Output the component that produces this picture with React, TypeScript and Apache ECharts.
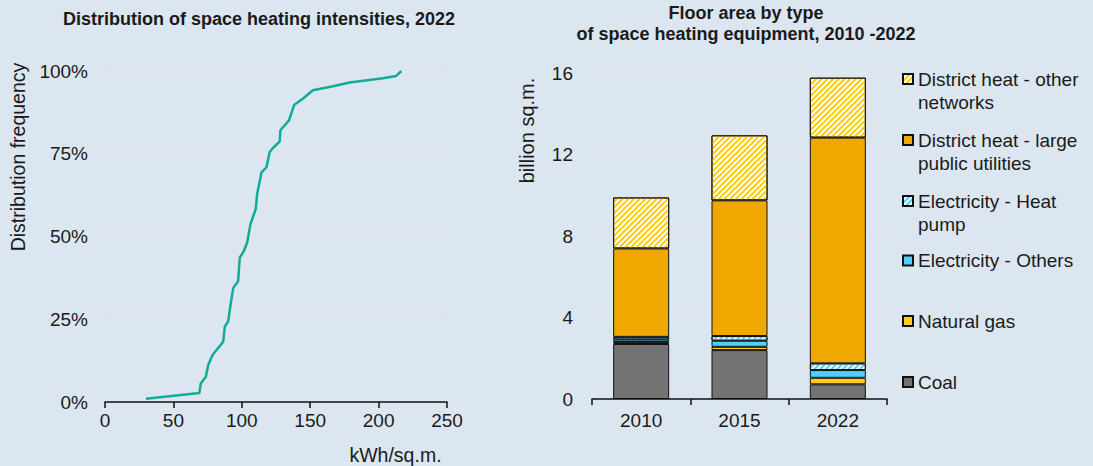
import React, { useEffect, useRef } from "react";
import * as echarts from "echarts";

const intensityX = [30, 69, 70, 73.7, 75.4, 78.6, 86.4, 87.6, 90, 92, 93.7, 97.3, 98.5, 101.5, 103.9, 106.3, 110.2, 111.2, 114.4, 118, 120.4, 122.9, 127.7, 128.2, 134.5, 138.2, 144.8, 152, 166.7, 178.8, 203.1, 212.9, 216.6];
const frequency = [1, 2.7, 5.6, 7.6, 11.1, 14.2, 18.2, 22.8, 24.3, 29.9, 34.4, 36.5, 43.6, 45.6, 48.1, 53.7, 58.3, 62.8, 69.4, 70.9, 75.5, 76.8, 78.7, 82.1, 85.1, 89.7, 91.7, 94.2, 95.4, 96.5, 97.8, 98.5, 100];

const years = ["2010", "2015", "2022"];
const coal = [2.7, 2.4, 0.72];
const naturalGas = [0.1, 0.16, 0.32];
const elecOthers = [0.12, 0.3, 0.38];
const elecHeatPump = [0.13, 0.23, 0.33];
const dhLarge = [4.34, 6.66, 11.08];
const dhOther = [2.5, 3.19, 2.94];

const xTicks = [0, 50, 100, 150, 200, 250];

const BG = "#dce6f1";
const FONT = "'Liberation Sans', Arial, sans-serif";
const INK = "#1a1a1a";

export default function App() {
  const ref = useRef<HTMLDivElement>(null);
  useEffect(() => {
    if (!ref.current) return;
    const chart = echarts.init(ref.current, null, { renderer: "svg" });
    const stripe = (color: string) => ({
      symbol: "rect",
      symbolSize: 1,
      color,
      dashArrayX: [1, 0],
      dashArrayY: [2, 2],
      rotation: -Math.PI / 4,
    });
    const barBase = {
      type: "bar",
      stack: "total",
      xAxisIndex: 1,
      yAxisIndex: 1,
      barWidth: 56,
    };
    const border = { borderColor: "#111", borderWidth: 1 };
    const seriesDefs = [
      { name: "Coal", data: coal, itemStyle: { color: "#737373", ...border } },
      { name: "Natural gas", data: naturalGas, itemStyle: { color: "#ffcc1a", ...border } },
      { name: "Electricity - Others", data: elecOthers, itemStyle: { color: "#4dd0fa", ...border } },
      { name: "Electricity - Heat pump", data: elecHeatPump, itemStyle: { color: "#ffffff", decal: stripe("#4dd0fa"), ...border } },
      { name: "District heat - large public utilities", data: dhLarge, itemStyle: { color: "#f0a800", ...border } },
      { name: "District heat - other networks", data: dhOther, itemStyle: { color: "#ffffff", decal: stripe("#ffcc00"), ...border } },
    ];
    const legendItems = [
      { name: "District heat - other networks", first: "District heat - other", second: "networks", cy: 79 },
      { name: "District heat - large public utilities", first: "District heat - large", second: "public utilities", cy: 140 },
      { name: "Electricity - Heat pump", first: "Electricity - Heat", second: "pump", cy: 201 },
      { name: "Electricity - Others", first: "Electricity - Others", second: "", cy: 260.5 },
      { name: "Natural gas", first: "Natural gas", second: "", cy: 321 },
      { name: "Coal", first: "Coal", second: "", cy: 382 },
    ];
    const FS = 19;
    const textStyle = { fontFamily: FONT, fontSize: FS, color: INK };
    const txt = (text: string, x: number, y: number, size: number, opts: any = {}) => ({
      type: "text",
      x,
      y,
      rotation: opts.rotation || 0,
      style: {
        text,
        font: `${opts.bold ? "bold " : ""}${size}px ${FONT}`,
        fill: INK,
        textAlign: opts.align || "center",
        textVerticalAlign: "middle",
      },
    });
    const option: any = {
      animation: false,
      backgroundColor: BG,
      textStyle: { fontFamily: FONT },
      legend: legendItems.map((it) => ({
        orient: "vertical",
        left: 902,
        top: it.cy - FS / 2,
        data: [it.name],
        icon: "rect",
        itemWidth: 10,
        itemHeight: 10,
        itemGap: 0,
        padding: 0,
        formatter: () => it.first,
        textStyle: { ...textStyle, lineHeight: FS, padding: [0, 0, 0, 0] },
        selectedMode: false,
      })),
      graphic: [
        txt("Distribution of space heating intensities, 2022", 259, 19, 18, { bold: true }),
        txt("Floor area by type", 746, 12.5, 18, { bold: true }),
        txt("of space heating equipment, 2010 -2022", 746, 33.5, 18, { bold: true }),
        ...legendItems
          .filter((it) => it.second)
          .map((it) => txt(it.second, 918, it.cy + 23, FS, { align: "left" })),
        txt("Distribution frequency", 18.3, 157, 19.5, { rotation: Math.PI / 2 }),
        txt("billion sq.m.", 527.3, 130.5, 20, { rotation: Math.PI / 2 }),
        txt("kWh/sq.m.", 395.5, 455, 19.5),
      ],
      grid: [
        { left: 105, right: 646, top: 71, bottom: 64 },
        { left: 592, right: 206, top: 73, bottom: 67 },
      ],
      xAxis: [
        {
          type: "value",
          gridIndex: 0,
          min: xTicks[0],
          max: xTicks[xTicks.length - 1],
          interval: 50,
          axisLine: { show: true, lineStyle: { color: "#111", width: 1.5 } },
          axisTick: { show: true, length: 6, lineStyle: { color: "#111", width: 1.5 } },
          splitLine: { show: false },
          axisLabel: { ...textStyle, margin: 9 },
        },
        {
          type: "category",
          gridIndex: 1,
          data: years,
          axisLine: { show: true, lineStyle: { color: "#111", width: 1.5 } },
          axisTick: { show: true, length: 6, lineStyle: { color: "#111", width: 1.5 } },
          axisLabel: { ...textStyle, margin: 12 },
        },
      ],
      yAxis: [
        {
          type: "value",
          gridIndex: 0,
          min: 0,
          max: 100,
          interval: 25,
          axisLine: { show: false },
          axisTick: { show: false },
          splitLine: { show: true, lineStyle: { color: "#e8e8e8", width: 1 } },
          axisLabel: { ...textStyle, margin: 17, formatter: "{value}%" },
        },
        {
          type: "value",
          gridIndex: 1,
          min: 0,
          max: 16,
          interval: 4,
          axisLine: { show: false },
          axisTick: { show: false },
          splitLine: { show: true, lineStyle: { color: "#e8e8e8", width: 1 } },
          axisLabel: { ...textStyle, margin: 19 },
        },
      ],
      series: [
        {
          type: "line",
          xAxisIndex: 0,
          yAxisIndex: 0,
          data: intensityX.map((x, i) => [x, frequency[i]]),
          showSymbol: false,
          symbol: "none",
          lineStyle: { color: "#12ab96", width: 2.5 },
        },
        ...seriesDefs.map((s) => ({ ...barBase, ...s })),
      ],
    };
    chart.setOption(option);
    return () => chart.dispose();
  }, []);
  return (
    <div
      ref={ref}
      style={{ position: "fixed", left: 0, top: 0, width: 1093, height: 466, background: BG }}
    />
  );
}
